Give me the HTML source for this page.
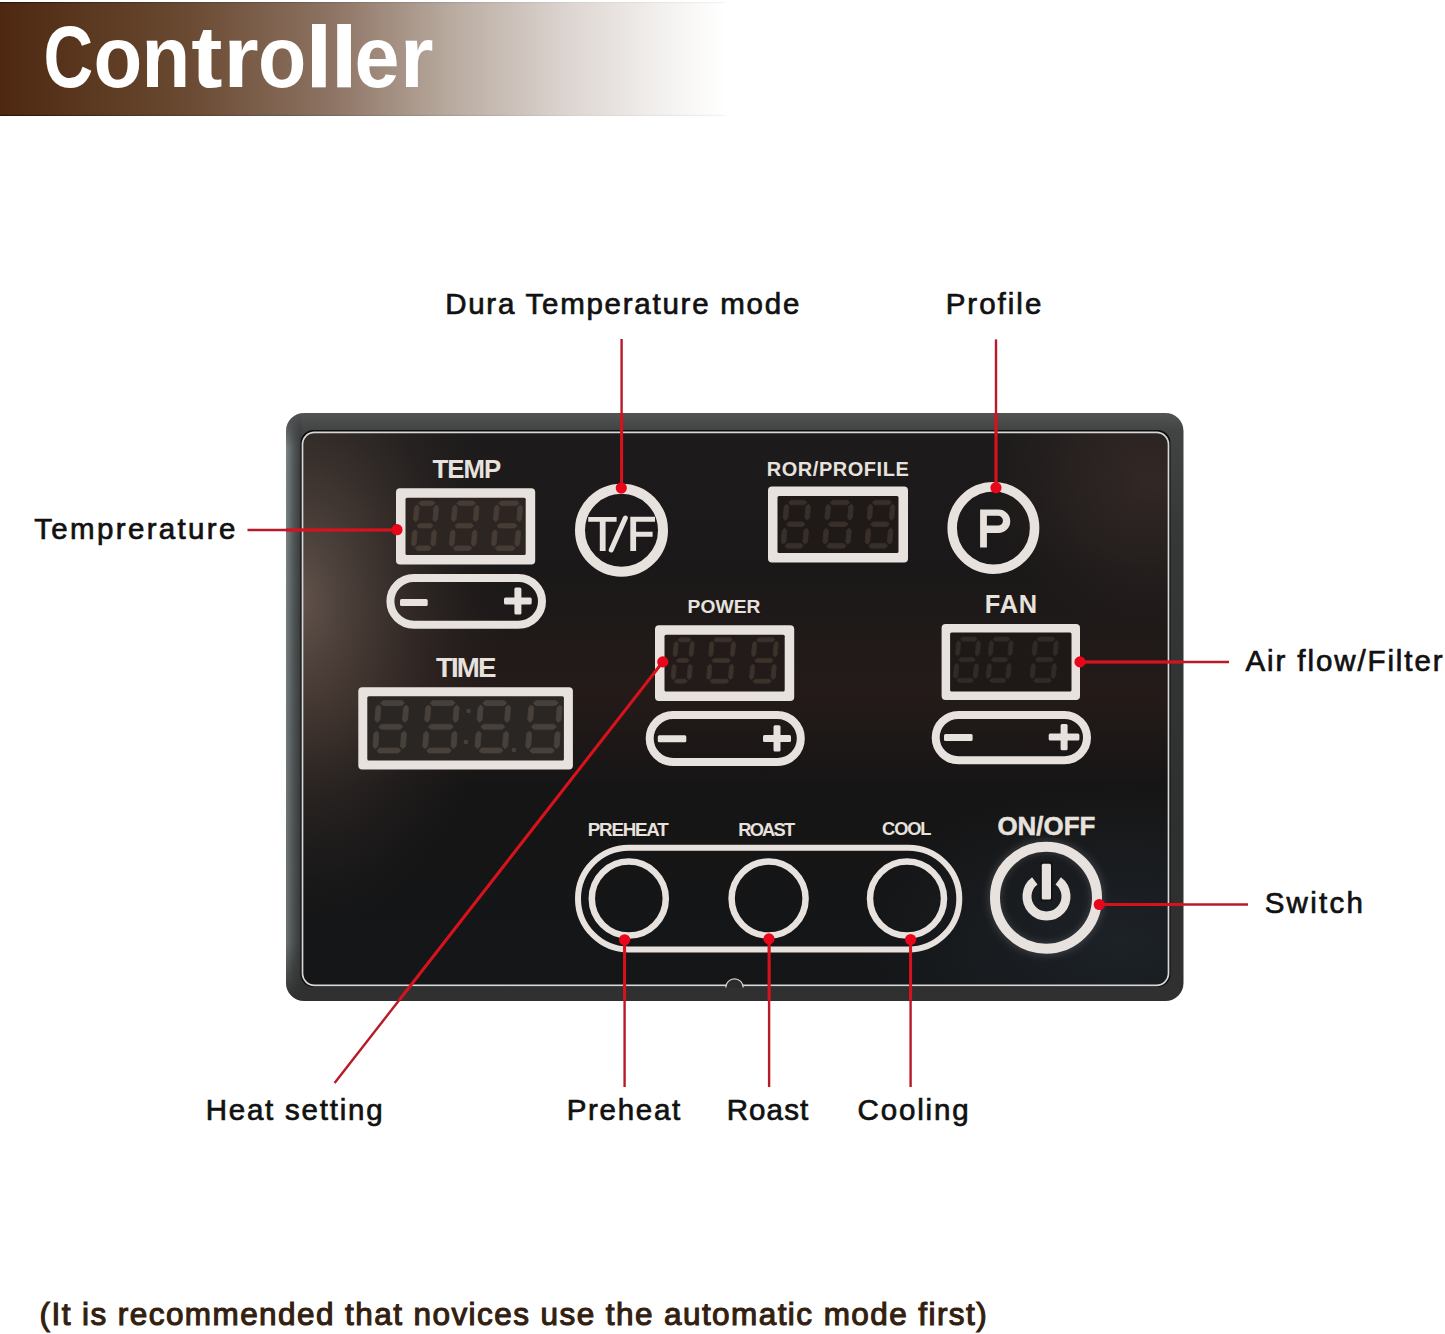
<!DOCTYPE html>
<html><head><meta charset="utf-8"><style>
html,body{margin:0;padding:0;background:#fff;width:1445px;height:1334px;overflow:hidden}
svg{display:block}
text{font-family:"Liberation Sans",sans-serif}
</style></head><body>
<svg width="1445" height="1334" viewBox="0 0 1445 1334">
<defs>
<linearGradient id="hdr" x1="0" y1="0" x2="725" y2="0" gradientUnits="userSpaceOnUse">
<stop offset="0" stop-color="#4e2810"/>
<stop offset="0.26" stop-color="#6a4a32"/>
<stop offset="0.46" stop-color="#8e7464"/>
<stop offset="0.62" stop-color="#b8aa9e"/>
<stop offset="0.78" stop-color="#dcd4d0"/>
<stop offset="0.92" stop-color="#f4f2f0"/>
<stop offset="1" stop-color="#ffffff"/>
</linearGradient>
<linearGradient id="hdrEdge" x1="0" y1="0" x2="725" y2="0" gradientUnits="userSpaceOnUse">
<stop offset="0" stop-color="#2a1606"/>
<stop offset="0.4" stop-color="#6a5a50"/>
<stop offset="0.8" stop-color="#d8d4d0"/>
<stop offset="1" stop-color="#f4f4f4"/>
</linearGradient>
<linearGradient id="bezLmaskG" x1="0" y1="413" x2="0" y2="1000" gradientUnits="userSpaceOnUse">
<stop offset="0" stop-color="#fff" stop-opacity="0"/>
<stop offset="0.06" stop-color="#fff" stop-opacity="1"/>
<stop offset="0.9" stop-color="#fff" stop-opacity="0.8"/>
<stop offset="1" stop-color="#fff" stop-opacity="0"/>
</linearGradient>
<mask id="bezLmask" maskUnits="userSpaceOnUse" x="280" y="405" width="30" height="600"><rect x="280" y="405" width="30" height="600" fill="url(#bezLmaskG)"/></mask>
<clipPath id="bezclip"><rect x="286" y="413" width="897.5" height="588" rx="18"/></clipPath>
<radialGradient id="reflL" cx="0" cy="0" r="1" gradientUnits="userSpaceOnUse" gradientTransform="translate(300 600) scale(210 330)">
<stop offset="0" stop-color="#6a5a52" stop-opacity="0.9"/>
<stop offset="0.4" stop-color="#55463e" stop-opacity="0.55"/>
<stop offset="1" stop-color="#2a2222" stop-opacity="0"/>
</radialGradient>
<linearGradient id="bezL" x1="286" y1="0" x2="301" y2="0" gradientUnits="userSpaceOnUse">
<stop offset="0" stop-color="#7c8484"/>
<stop offset="0.5" stop-color="#525858"/>
<stop offset="1" stop-color="#383a3a"/>
</linearGradient>
<radialGradient id="reflR" cx="0" cy="0" r="1" gradientUnits="userSpaceOnUse" gradientTransform="translate(1150 480) scale(160 150)">
<stop offset="0" stop-color="#3c2e2a" stop-opacity="0.7"/>
<stop offset="1" stop-color="#3c2e2a" stop-opacity="0"/>
</radialGradient>
<radialGradient id="reflB" cx="0" cy="0" r="1" gradientUnits="userSpaceOnUse" gradientTransform="translate(1120 940) scale(260 160)">
<stop offset="0" stop-color="#26303a" stop-opacity="0.45"/>
<stop offset="1" stop-color="#26303a" stop-opacity="0"/>
</radialGradient>
<linearGradient id="panelg" x1="0" y1="432" x2="0" y2="984" gradientUnits="userSpaceOnUse">
<stop offset="0" stop-color="#1d1b1b"/>
<stop offset="0.25" stop-color="#1a1818"/>
<stop offset="0.47" stop-color="#241b19"/>
<stop offset="0.64" stop-color="#161515"/>
<stop offset="1" stop-color="#141618"/>
</linearGradient>
<linearGradient id="bezg" x1="0" y1="413" x2="0" y2="1000" gradientUnits="userSpaceOnUse">
<stop offset="0" stop-color="#525454"/>
<stop offset="0.03" stop-color="#424444"/>
<stop offset="0.2" stop-color="#363838"/>
<stop offset="0.7" stop-color="#2e2f2f"/>
<stop offset="1" stop-color="#303030"/>
</linearGradient>
<filter id="blur1" x="-20%" y="-20%" width="140%" height="140%"><feGaussianBlur stdDeviation="1.2"/></filter>
<filter id="blur05" x="-20%" y="-20%" width="140%" height="140%"><feGaussianBlur stdDeviation="0.6"/></filter>
<filter id="blur2" x="-30%" y="-30%" width="160%" height="160%"><feGaussianBlur stdDeviation="3"/></filter>
</defs>
<rect width="1445" height="1334" fill="#fff"/>
<rect x="0" y="2" width="725" height="114" fill="url(#hdr)"/>
<rect x="0" y="2" width="725" height="1.2" fill="url(#hdrEdge)"/>
<rect x="0" y="114.8" width="725" height="1.2" fill="url(#hdrEdge)"/>

<text transform="translate(46.20 87) scale(0.790 1)" x="-3.48" y="0" font-size="87" font-weight="bold" fill="#ffffff">C</text>
<text transform="translate(96.70 87) scale(0.917 1)" x="-3.48" y="0" font-size="87" font-weight="bold" fill="#ffffff">o</text>
<text transform="translate(146.60 87) scale(0.917 1)" x="-5.66" y="0" font-size="87" font-weight="bold" fill="#ffffff">n</text>
<text transform="translate(192.20 87) scale(1.079 1)" x="-0.87" y="0" font-size="87" font-weight="bold" fill="#ffffff">t</text>
<text transform="translate(229.30 87) scale(1.038 1)" x="-5.66" y="0" font-size="87" font-weight="bold" fill="#ffffff">r</text>
<text transform="translate(261.10 87) scale(0.909 1)" x="-3.48" y="0" font-size="87" font-weight="bold" fill="#ffffff">o</text>
<text transform="translate(312.10 87) scale(1.150 1)" x="-6.09" y="0" font-size="87" font-weight="bold" fill="#ffffff">l</text>
<text transform="translate(337.20 87) scale(1.150 1)" x="-6.09" y="0" font-size="87" font-weight="bold" fill="#ffffff">l</text>
<text transform="translate(357.80 87) scale(0.929 1)" x="-3.48" y="0" font-size="87" font-weight="bold" fill="#ffffff">e</text>
<text transform="translate(405.70 87) scale(0.990 1)" x="-5.66" y="0" font-size="87" font-weight="bold" fill="#ffffff">r</text>
<text x="445.14" y="313.70" font-size="29.5" font-weight="normal" fill="#111" textLength="354.21" lengthAdjust="spacing" stroke="#111" stroke-width="0.7" paint-order="stroke" >Dura Temperature mode</text>
<text x="945.64" y="314.00" font-size="29.5" font-weight="normal" fill="#111" textLength="95.68" lengthAdjust="spacing" stroke="#111" stroke-width="0.7" paint-order="stroke" >Profile</text>
<text x="34.26" y="539.00" font-size="29.5" font-weight="normal" fill="#111" textLength="201.12" lengthAdjust="spacing" stroke="#111" stroke-width="0.7" paint-order="stroke" >Temprerature</text>
<text x="1245.55" y="671.00" font-size="29.5" font-weight="normal" fill="#111" textLength="196.99" lengthAdjust="spacing" stroke="#111" stroke-width="0.7" paint-order="stroke" >Air flow/Filter</text>
<text x="1264.67" y="912.50" font-size="29.5" font-weight="normal" fill="#111" textLength="98.26" lengthAdjust="spacing" stroke="#111" stroke-width="0.7" paint-order="stroke" >Switch</text>
<text x="205.64" y="1120.00" font-size="29.5" font-weight="normal" fill="#111" textLength="177.02" lengthAdjust="spacing" stroke="#111" stroke-width="0.7" paint-order="stroke" >Heat setting</text>
<text x="566.64" y="1120.00" font-size="29.5" font-weight="normal" fill="#111" textLength="113.58" lengthAdjust="spacing" stroke="#111" stroke-width="0.7" paint-order="stroke" >Preheat</text>
<text x="726.64" y="1120.00" font-size="29.5" font-weight="normal" fill="#111" textLength="81.58" lengthAdjust="spacing" stroke="#111" stroke-width="0.7" paint-order="stroke" >Roast</text>
<text x="857.52" y="1120.00" font-size="29.5" font-weight="normal" fill="#111" textLength="111.03" lengthAdjust="spacing" stroke="#111" stroke-width="0.7" paint-order="stroke" >Cooling</text>
<text x="39.61" y="1325.00" font-size="31.5" font-weight="normal" fill="#33200f" textLength="947.10" lengthAdjust="spacing" stroke="#33200f" stroke-width="1.1" paint-order="stroke" >(It is recommended that novices use the automatic mode first)</text>
<rect x="286" y="413" width="897.5" height="588" rx="18" fill="url(#bezg)"/>
<g clip-path="url(#bezclip)"><rect x="286" y="413" width="15" height="588" fill="url(#bezL)" mask="url(#bezLmask)"/></g>
<rect x="300.5" y="430" width="870" height="557" rx="13" fill="#0e0e0e"/>
<rect x="302.5" y="432.3" width="866" height="553" rx="12" fill="url(#panelg)"/>
<rect x="302.5" y="432.3" width="866" height="553" rx="12" fill="url(#reflL)"/>
<rect x="302.5" y="432.3" width="866" height="553" rx="12" fill="url(#reflR)"/>
<rect x="302.5" y="432.3" width="866" height="553" rx="12" fill="url(#reflB)"/>
<rect x="302.5" y="432.3" width="866" height="553" rx="12" fill="none" stroke="#d8d8d8" stroke-width="1.7"/>
<rect x="396" y="488.2" width="139.2" height="76.4" rx="4" fill="#e8e2de"/>
<rect x="405.5" y="497.7" width="120.2" height="57.4" rx="1.5" fill="#2c2522"/>
<path d="M418.7,503.3 L421.2,501.0 L432.8,501.0 L434.9,503.3 L432.4,505.6 L420.8,505.6ZM436.4,504.9 L438.5,507.2 L437.5,519.5 L435.0,521.8 L432.9,519.5 L433.9,507.2ZM434.4,529.7 L436.5,532.0 L435.5,544.3 L433.0,546.6 L430.9,544.3 L431.9,532.0ZM415.1,548.2 L417.6,545.9 L429.2,545.9 L431.3,548.2 L428.8,550.5 L417.2,550.5ZM415.0,529.7 L417.1,532.0 L416.1,544.3 L413.6,546.6 L411.5,544.3 L412.5,532.0ZM417.0,504.9 L419.1,507.2 L418.1,519.5 L415.6,521.8 L413.5,519.5 L414.5,507.2ZM416.9,525.8 L419.4,523.5 L431.0,523.5 L433.1,525.8 L430.6,528.0 L419.0,528.0Z" fill="#463b35" stroke="#463b35" stroke-width="0.8" stroke-linejoin="round" filter="url(#blur05)"/>
<path d="M456.7,503.3 L459.2,501.0 L473.3,501.0 L475.4,503.3 L472.9,505.6 L458.8,505.6ZM476.9,504.9 L479.0,507.2 L478.0,519.5 L475.5,521.8 L473.4,519.5 L474.4,507.2ZM474.9,529.7 L477.0,532.0 L476.0,544.3 L473.5,546.6 L471.4,544.3 L472.4,532.0ZM453.1,548.2 L455.6,545.9 L469.7,545.9 L471.8,548.2 L469.3,550.5 L455.2,550.5ZM453.0,529.7 L455.1,532.0 L454.1,544.3 L451.6,546.6 L449.5,544.3 L450.5,532.0ZM455.0,504.9 L457.1,507.2 L456.1,519.5 L453.6,521.8 L451.5,519.5 L452.5,507.2ZM454.9,525.8 L457.4,523.5 L471.5,523.5 L473.6,525.8 L471.1,528.0 L457.0,528.0Z" fill="#463b35" stroke="#463b35" stroke-width="0.8" stroke-linejoin="round" filter="url(#blur05)"/>
<path d="M498.7,503.3 L501.2,501.0 L516.8,501.0 L518.9,503.3 L516.4,505.6 L500.8,505.6ZM520.4,504.9 L522.5,507.2 L521.5,519.5 L519.0,521.8 L516.9,519.5 L517.9,507.2ZM518.4,529.7 L520.5,532.0 L519.5,544.3 L517.0,546.6 L514.9,544.3 L515.9,532.0ZM495.1,548.2 L497.6,545.9 L513.2,545.9 L515.3,548.2 L512.8,550.5 L497.2,550.5ZM495.0,529.7 L497.1,532.0 L496.1,544.3 L493.6,546.6 L491.5,544.3 L492.5,532.0ZM497.0,504.9 L499.1,507.2 L498.1,519.5 L495.6,521.8 L493.5,519.5 L494.5,507.2ZM496.9,525.8 L499.4,523.5 L515.0,523.5 L517.1,525.8 L514.6,528.0 L499.0,528.0Z" fill="#463b35" stroke="#463b35" stroke-width="0.8" stroke-linejoin="round" filter="url(#blur05)"/>
<rect x="768" y="486.5" width="140.0" height="76.0" rx="4" fill="#e8e2de"/>
<rect x="777.5" y="496.0" width="121.0" height="57.0" rx="1.5" fill="#1f1917"/>
<path d="M788.4,502.5 L790.9,500.2 L804.8,500.2 L806.9,502.5 L804.4,504.8 L790.5,504.8ZM808.4,504.1 L810.5,506.4 L809.5,518.0 L807.0,520.3 L804.9,518.0 L805.9,506.4ZM806.4,528.1 L808.5,530.4 L807.5,542.0 L805.0,544.3 L802.9,542.0 L803.9,530.4ZM784.8,545.9 L787.3,543.6 L801.2,543.6 L803.3,545.9 L800.8,548.2 L786.9,548.2ZM784.7,528.1 L786.8,530.4 L785.8,542.0 L783.3,544.3 L781.2,542.0 L782.2,530.4ZM786.7,504.1 L788.8,506.4 L787.8,518.0 L785.3,520.3 L783.2,518.0 L784.2,506.4ZM786.6,524.2 L789.1,521.9 L803.0,521.9 L805.1,524.2 L802.6,526.5 L788.7,526.5Z" fill="#372e2a" stroke="#372e2a" stroke-width="0.8" stroke-linejoin="round" filter="url(#blur05)"/>
<path d="M830.1,502.5 L832.6,500.2 L847.6,500.2 L849.7,502.5 L847.2,504.8 L832.2,504.8ZM851.2,504.1 L853.3,506.4 L852.3,518.0 L849.8,520.3 L847.7,518.0 L848.7,506.4ZM849.2,528.1 L851.3,530.4 L850.3,542.0 L847.8,544.3 L845.7,542.0 L846.7,530.4ZM826.5,545.9 L829.0,543.6 L844.0,543.6 L846.1,545.9 L843.6,548.2 L828.6,548.2ZM826.4,528.1 L828.5,530.4 L827.5,542.0 L825.0,544.3 L822.9,542.0 L823.9,530.4ZM828.4,504.1 L830.5,506.4 L829.5,518.0 L827.0,520.3 L824.9,518.0 L825.9,506.4ZM828.3,524.2 L830.8,521.9 L845.8,521.9 L847.9,524.2 L845.4,526.5 L830.4,526.5Z" fill="#372e2a" stroke="#372e2a" stroke-width="0.8" stroke-linejoin="round" filter="url(#blur05)"/>
<path d="M872.3,502.5 L874.8,500.2 L889.2,500.2 L891.3,502.5 L888.8,504.8 L874.4,504.8ZM892.8,504.1 L894.9,506.4 L893.9,518.0 L891.4,520.3 L889.3,518.0 L890.3,506.4ZM890.8,528.1 L892.9,530.4 L891.9,542.0 L889.4,544.3 L887.3,542.0 L888.3,530.4ZM868.7,545.9 L871.2,543.6 L885.6,543.6 L887.7,545.9 L885.2,548.2 L870.8,548.2ZM868.6,528.1 L870.7,530.4 L869.7,542.0 L867.2,544.3 L865.1,542.0 L866.1,530.4ZM870.6,504.1 L872.7,506.4 L871.7,518.0 L869.2,520.3 L867.1,518.0 L868.1,506.4ZM870.5,524.2 L873.0,521.9 L887.4,521.9 L889.5,524.2 L887.0,526.5 L872.6,526.5Z" fill="#372e2a" stroke="#372e2a" stroke-width="0.8" stroke-linejoin="round" filter="url(#blur05)"/>
<rect x="655" y="625.2" width="139.2" height="75.8" rx="4" fill="#e8e2de"/>
<rect x="664.5" y="634.7" width="120.2" height="56.8" rx="1.5" fill="#221b19"/>
<path d="M678.0,639.8 L680.3,637.7 L689.1,637.7 L691.0,639.8 L688.8,641.9 L679.9,641.9ZM692.4,641.3 L694.3,643.4 L693.3,654.8 L691.0,656.9 L689.1,654.8 L690.1,643.4ZM690.4,664.1 L692.3,666.2 L691.3,677.6 L689.0,679.7 L687.1,677.6 L688.1,666.2ZM674.4,681.2 L676.6,679.1 L685.5,679.1 L687.4,681.2 L685.1,683.3 L676.3,683.3ZM674.4,664.1 L676.3,666.2 L675.3,677.6 L673.0,679.7 L671.1,677.6 L672.1,666.2ZM676.4,641.3 L678.3,643.4 L677.3,654.8 L675.0,656.9 L673.1,654.8 L674.1,643.4ZM676.2,660.5 L678.5,658.4 L687.3,658.4 L689.2,660.5 L686.9,662.6 L678.1,662.6Z" fill="#3a302c" stroke="#3a302c" stroke-width="0.8" stroke-linejoin="round" filter="url(#blur05)"/>
<path d="M713.6,639.8 L715.9,637.7 L730.4,637.7 L732.3,639.8 L730.1,641.9 L715.5,641.9ZM733.7,641.3 L735.6,643.4 L734.6,654.8 L732.3,656.9 L730.4,654.8 L731.4,643.4ZM731.7,664.1 L733.6,666.2 L732.6,677.6 L730.3,679.7 L728.4,677.6 L729.4,666.2ZM710.0,681.2 L712.2,679.1 L726.8,679.1 L728.7,681.2 L726.4,683.3 L711.9,683.3ZM710.0,664.1 L711.9,666.2 L710.9,677.6 L708.6,679.7 L706.7,677.6 L707.7,666.2ZM712.0,641.3 L713.9,643.4 L712.9,654.8 L710.6,656.9 L708.7,654.8 L709.7,643.4ZM711.8,660.5 L714.1,658.4 L728.6,658.4 L730.5,660.5 L728.2,662.6 L713.7,662.6Z" fill="#3a302c" stroke="#3a302c" stroke-width="0.8" stroke-linejoin="round" filter="url(#blur05)"/>
<path d="M756.4,639.8 L758.7,637.7 L773.1,637.7 L775.0,639.8 L772.8,641.9 L758.3,641.9ZM776.4,641.3 L778.3,643.4 L777.3,654.8 L775.0,656.9 L773.1,654.8 L774.1,643.4ZM774.4,664.1 L776.3,666.2 L775.3,677.6 L773.0,679.7 L771.1,677.6 L772.1,666.2ZM752.8,681.2 L755.0,679.1 L769.5,679.1 L771.4,681.2 L769.1,683.3 L754.7,683.3ZM752.8,664.1 L754.7,666.2 L753.7,677.6 L751.4,679.7 L749.5,677.6 L750.5,666.2ZM754.8,641.3 L756.7,643.4 L755.7,654.8 L753.4,656.9 L751.5,654.8 L752.5,643.4ZM754.6,660.5 L756.9,658.4 L771.3,658.4 L773.2,660.5 L770.9,662.6 L756.5,662.6Z" fill="#3a302c" stroke="#3a302c" stroke-width="0.8" stroke-linejoin="round" filter="url(#blur05)"/>
<rect x="358.3" y="687.3" width="214.6" height="82.3" rx="4" fill="#e8e2de"/>
<rect x="367.3" y="696.3" width="196.6" height="64.3" rx="1.5" fill="#2a2624"/>
<path d="M380.5,703.1 L383.1,700.6 L402.2,700.6 L404.6,703.1 L401.9,705.6 L382.8,705.6ZM406.2,704.9 L408.5,707.4 L407.5,720.0 L404.8,722.5 L402.5,720.0 L403.5,707.4ZM404.2,731.0 L406.5,733.5 L405.5,746.2 L402.8,748.8 L400.5,746.2 L401.5,733.5ZM376.8,750.5 L379.5,748.0 L398.6,748.0 L400.9,750.5 L398.2,753.0 L379.1,753.0ZM376.6,731.0 L378.9,733.5 L377.9,746.2 L375.2,748.8 L372.9,746.2 L373.9,733.5ZM378.6,704.9 L380.9,707.4 L379.9,720.0 L377.2,722.5 L374.9,720.0 L375.9,707.4ZM378.6,726.8 L381.3,724.3 L400.4,724.3 L402.8,726.8 L400.1,729.3 L381.0,729.3Z" fill="#46403b" stroke="#46403b" stroke-width="0.8" stroke-linejoin="round" filter="url(#blur05)"/>
<path d="M430.3,703.1 L432.9,700.6 L452.9,700.6 L455.2,703.1 L452.5,705.6 L432.6,705.6ZM456.8,704.9 L459.1,707.4 L458.1,720.0 L455.4,722.5 L453.1,720.0 L454.1,707.4ZM454.8,731.0 L457.1,733.5 L456.1,746.2 L453.4,748.8 L451.1,746.2 L452.1,733.5ZM426.6,750.5 L429.3,748.0 L449.2,748.0 L451.5,750.5 L448.9,753.0 L428.9,753.0ZM426.4,731.0 L428.7,733.5 L427.7,746.2 L425.0,748.8 L422.7,746.2 L423.7,733.5ZM428.4,704.9 L430.7,707.4 L429.7,720.0 L427.0,722.5 L424.7,720.0 L425.7,707.4ZM428.4,726.8 L431.1,724.3 L451.0,724.3 L453.4,726.8 L450.7,729.3 L430.8,729.3Z" fill="#46403b" stroke="#46403b" stroke-width="0.8" stroke-linejoin="round" filter="url(#blur05)"/>
<path d="M482.7,703.1 L485.4,700.6 L504.4,700.6 L506.7,703.1 L504.0,705.6 L485.0,705.6ZM508.3,704.9 L510.6,707.4 L509.6,720.0 L506.9,722.5 L504.6,720.0 L505.6,707.4ZM506.3,731.0 L508.6,733.5 L507.6,746.2 L504.9,748.8 L502.6,746.2 L503.6,733.5ZM479.0,750.5 L481.7,748.0 L500.7,748.0 L503.0,750.5 L500.4,753.0 L481.4,753.0ZM478.8,731.0 L481.1,733.5 L480.1,746.2 L477.4,748.8 L475.1,746.2 L476.1,733.5ZM480.8,704.9 L483.1,707.4 L482.1,720.0 L479.4,722.5 L477.1,720.0 L478.1,707.4ZM480.9,726.8 L483.5,724.3 L502.5,724.3 L504.9,726.8 L502.2,729.3 L483.2,729.3Z" fill="#46403b" stroke="#46403b" stroke-width="0.8" stroke-linejoin="round" filter="url(#blur05)"/>
<path d="M533.3,703.1 L536.0,700.6 L555.9,700.6 L558.2,703.1 L555.5,705.6 L535.6,705.6ZM559.8,704.9 L562.1,707.4 L561.1,720.0 L558.4,722.5 L556.1,720.0 L557.1,707.4ZM557.8,731.0 L560.1,733.5 L559.1,746.2 L556.4,748.8 L554.1,746.2 L555.1,733.5ZM529.6,750.5 L532.3,748.0 L552.2,748.0 L554.5,750.5 L551.9,753.0 L532.0,753.0ZM529.4,731.0 L531.7,733.5 L530.7,746.2 L528.0,748.8 L525.7,746.2 L526.7,733.5ZM531.4,704.9 L533.7,707.4 L532.7,720.0 L530.0,722.5 L527.7,720.0 L528.7,707.4ZM531.5,726.8 L534.1,724.3 L554.0,724.3 L556.4,726.8 L553.7,729.3 L533.8,729.3Z" fill="#46403b" stroke="#46403b" stroke-width="0.8" stroke-linejoin="round" filter="url(#blur05)"/>
<circle cx="468.5" cy="711" r="2.3" fill="#46403b"/>
<circle cx="466" cy="742" r="2.3" fill="#46403b"/>
<circle cx="514" cy="750" r="2.3" fill="#46403b"/>
<rect x="941.6" y="623.9" width="138.4" height="76.0" rx="4" fill="#e8e2de"/>
<rect x="950.1" y="632.4" width="121.4" height="59.0" rx="1.5" fill="#1e1917"/>
<path d="M960.4,639.1 L962.7,637.0 L975.3,637.0 L977.2,639.1 L975.0,641.2 L962.3,641.2ZM978.6,640.6 L980.5,642.7 L979.5,654.0 L977.2,656.1 L975.3,654.0 L976.3,642.7ZM976.6,663.3 L978.5,665.4 L977.5,676.7 L975.2,678.8 L973.3,676.7 L974.3,665.4ZM956.8,680.3 L959.0,678.2 L971.7,678.2 L973.6,680.3 L971.3,682.4 L958.7,682.4ZM956.8,663.3 L958.7,665.4 L957.7,676.7 L955.4,678.8 L953.5,676.7 L954.5,665.4ZM958.8,640.6 L960.7,642.7 L959.7,654.0 L957.4,656.1 L955.5,654.0 L956.5,642.7ZM958.6,659.7 L960.9,657.6 L973.5,657.6 L975.4,659.7 L973.1,661.8 L960.5,661.8Z" fill="#302a27" stroke="#302a27" stroke-width="0.8" stroke-linejoin="round" filter="url(#blur05)"/>
<path d="M993.2,639.1 L995.5,637.0 L1007.9,637.0 L1009.8,639.1 L1007.6,641.2 L995.1,641.2ZM1011.2,640.6 L1013.1,642.7 L1012.1,654.0 L1009.8,656.1 L1007.9,654.0 L1008.9,642.7ZM1009.2,663.3 L1011.1,665.4 L1010.1,676.7 L1007.8,678.8 L1005.9,676.7 L1006.9,665.4ZM989.6,680.3 L991.8,678.2 L1004.3,678.2 L1006.2,680.3 L1003.9,682.4 L991.5,682.4ZM989.6,663.3 L991.5,665.4 L990.5,676.7 L988.2,678.8 L986.3,676.7 L987.3,665.4ZM991.6,640.6 L993.5,642.7 L992.5,654.0 L990.2,656.1 L988.3,654.0 L989.3,642.7ZM991.4,659.7 L993.7,657.6 L1006.1,657.6 L1008.0,659.7 L1005.7,661.8 L993.3,661.8Z" fill="#302a27" stroke="#302a27" stroke-width="0.8" stroke-linejoin="round" filter="url(#blur05)"/>
<path d="M1037.1,639.1 L1039.4,637.0 L1053.2,637.0 L1055.1,639.1 L1052.9,641.2 L1039.0,641.2ZM1056.5,640.6 L1058.4,642.7 L1057.4,654.0 L1055.1,656.1 L1053.2,654.0 L1054.2,642.7ZM1054.5,663.3 L1056.4,665.4 L1055.4,676.7 L1053.1,678.8 L1051.2,676.7 L1052.2,665.4ZM1033.5,680.3 L1035.7,678.2 L1049.6,678.2 L1051.5,680.3 L1049.2,682.4 L1035.4,682.4ZM1033.5,663.3 L1035.4,665.4 L1034.4,676.7 L1032.1,678.8 L1030.2,676.7 L1031.2,665.4ZM1035.5,640.6 L1037.4,642.7 L1036.4,654.0 L1034.1,656.1 L1032.2,654.0 L1033.2,642.7ZM1035.3,659.7 L1037.6,657.6 L1051.4,657.6 L1053.3,659.7 L1051.0,661.8 L1037.2,661.8Z" fill="#302a27" stroke="#302a27" stroke-width="0.8" stroke-linejoin="round" filter="url(#blur05)"/>
<rect x="390.4" y="578.0" width="151.6" height="46.7" rx="23.4" fill="none" stroke="#e8e2de" stroke-width="8"/>
<rect x="400" y="598.9" width="27.7" height="7" rx="1.5" fill="#e8e2de"/>
<rect x="504" y="597.5" width="27.7" height="7" rx="1.5" fill="#e8e2de"/>
<rect x="514.4" y="587.4" width="7" height="27.1" rx="1.5" fill="#e8e2de"/>
<rect x="649.7" y="715.0" width="151.1" height="47.0" rx="23.5" fill="none" stroke="#e8e2de" stroke-width="8"/>
<rect x="657.8" y="735.3" width="28.5" height="7" rx="1.5" fill="#e8e2de"/>
<rect x="763" y="735.0" width="28.0" height="7" rx="1.5" fill="#e8e2de"/>
<rect x="773.5" y="725.3" width="7" height="26.3" rx="1.5" fill="#e8e2de"/>
<rect x="935.7" y="714.9" width="151.3" height="45.3" rx="22.7" fill="none" stroke="#e8e2de" stroke-width="8"/>
<rect x="944" y="734.0" width="28.6" height="7" rx="1.5" fill="#e8e2de"/>
<rect x="1048.7" y="733.6" width="30.7" height="7" rx="1.5" fill="#e8e2de"/>
<rect x="1060.6" y="724" width="7" height="26.3" rx="1.5" fill="#e8e2de"/>
<text x="432.44" y="477.80" font-size="25.8" font-weight="bold" fill="#e8e2de" textLength="68.71" lengthAdjust="spacing" >TEMP</text>
<text x="766.80" y="475.70" font-size="20.0" font-weight="bold" fill="#e8e2de" textLength="141.97" lengthAdjust="spacing" >ROR/PROFILE</text>
<text x="687.55" y="612.80" font-size="19.2" font-weight="bold" fill="#e8e2de" textLength="72.89" lengthAdjust="spacing" >POWER</text>
<text x="436.02" y="676.50" font-size="27.7" font-weight="bold" fill="#e8e2de" textLength="60.35" lengthAdjust="spacing" >TIME</text>
<text x="984.85" y="612.90" font-size="25.4" font-weight="bold" fill="#e8e2de" textLength="52.30" lengthAdjust="spacing" >FAN</text>
<text x="587.78" y="835.60" font-size="18.8" font-weight="bold" fill="#e8e2de" textLength="81.00" lengthAdjust="spacing" >PREHEAT</text>
<text x="738.31" y="835.60" font-size="18.3" font-weight="bold" fill="#e8e2de" textLength="56.77" lengthAdjust="spacing" >ROAST</text>
<text x="882.07" y="835.20" font-size="18.3" font-weight="bold" fill="#e8e2de" textLength="49.46" lengthAdjust="spacing" >COOL</text>
<text x="997.46" y="835.30" font-size="25.9" font-weight="bold" fill="#e8e2de" textLength="97.90" lengthAdjust="spacing" stroke="#e8e2de" stroke-width="0.5" paint-order="stroke" >ON/OFF</text>
<circle cx="621.5" cy="530.2" r="41.5" fill="none" stroke="#e8e2de" stroke-width="10"/>
<path d="M588.2,517.1H616.6V521.8H605.6V551H599.8V521.8H588.2Z M630.3,516.8H655V521.8H636.1V531.8H652.6V536.8H636.1V551H630.3Z" fill="#e8e2de"/>
<line x1="625.3" y1="518" x2="611.2" y2="550" stroke="#e8e2de" stroke-width="5" stroke-linecap="round"/>
<circle cx="993.4" cy="528" r="41.2" fill="none" stroke="#e8e2de" stroke-width="9.5"/>
<path fill-rule="evenodd" d="M980.1,509.5H998.5A11.75,11.75 0 0 1 998.5,533H986.9V547.4H980.1Z M986.9,515.7V525.6H998A4.95,4.95 0 0 0 998,515.7Z" fill="#e8e2de"/>
<rect x="578" y="847.7" width="381.3" height="101.9" rx="50.95" fill="none" stroke="#e8e2de" stroke-width="6"/>
<circle cx="628.8" cy="898.6" r="37" fill="none" stroke="#e8e2de" stroke-width="6.5"/>
<circle cx="768.6" cy="898.6" r="37" fill="none" stroke="#e8e2de" stroke-width="6.5"/>
<circle cx="907" cy="898.6" r="37" fill="none" stroke="#e8e2de" stroke-width="6.5"/>
<circle cx="1046" cy="897.7" r="51.5" fill="none" stroke="#ffffff" stroke-opacity="0.12" stroke-width="14" filter="url(#blur2)"/>
<circle cx="1046" cy="897.7" r="51" fill="none" stroke="#e8e2de" stroke-width="10" filter="url(#blur05)"/>
<path d="M1034.76,880.93 A19.5,19.5 0 1 0 1058.24,880.93" fill="none" stroke="#e8e2de" stroke-width="9" filter="url(#blur05)"/>
<rect x="1039.8" y="861.7" width="13.2" height="39.7" rx="3" fill="#141414"/>
<rect x="1041.8" y="863.7" width="9.2" height="35.7" rx="1.5" fill="#e8e2de" filter="url(#blur05)"/>
<path d="M725.8,987.5 A8.7,8.7 0 0 1 743.2,987.5 Z" fill="#2c2c2c"/>
<path d="M725.8,987.5 A8.7,8.7 0 0 1 743.2,987.5" fill="none" stroke="#d0d0d0" stroke-width="1.3"/>
<clipPath id="devclip"><rect x="286" y="413" width="897" height="587" rx="17"/></clipPath>
<line x1="621.6" y1="339" x2="621.6" y2="488" stroke="#b81a28" stroke-width="2.4"/>
<line x1="996" y1="339.4" x2="996" y2="487.7" stroke="#b81a28" stroke-width="2.4"/>
<line x1="247.5" y1="530" x2="397" y2="530" stroke="#b81a28" stroke-width="2.4"/>
<line x1="1080" y1="662" x2="1229" y2="662" stroke="#b81a28" stroke-width="2.4"/>
<line x1="1099" y1="904.5" x2="1248" y2="904.5" stroke="#b81a28" stroke-width="2.4"/>
<line x1="334.6" y1="1083" x2="662.8" y2="661.9" stroke="#b81a28" stroke-width="2.4"/>
<line x1="624.6" y1="939.8" x2="624.6" y2="1087" stroke="#b81a28" stroke-width="2.4"/>
<line x1="769.1" y1="939" x2="769.1" y2="1087" stroke="#b81a28" stroke-width="2.4"/>
<line x1="910.6" y1="939" x2="910.6" y2="1087" stroke="#b81a28" stroke-width="2.4"/>
<line x1="621.6" y1="339" x2="621.6" y2="488" stroke="#d8121c" stroke-width="3" clip-path="url(#devclip)"/>
<line x1="996" y1="339.4" x2="996" y2="487.7" stroke="#d8121c" stroke-width="3" clip-path="url(#devclip)"/>
<line x1="247.5" y1="530" x2="397" y2="530" stroke="#d8121c" stroke-width="3" clip-path="url(#devclip)"/>
<line x1="1080" y1="662" x2="1229" y2="662" stroke="#d8121c" stroke-width="3" clip-path="url(#devclip)"/>
<line x1="1099" y1="904.5" x2="1248" y2="904.5" stroke="#d8121c" stroke-width="3" clip-path="url(#devclip)"/>
<line x1="334.6" y1="1083" x2="662.8" y2="661.9" stroke="#d8121c" stroke-width="3" clip-path="url(#devclip)"/>
<line x1="624.6" y1="939.8" x2="624.6" y2="1087" stroke="#d8121c" stroke-width="3" clip-path="url(#devclip)"/>
<line x1="769.1" y1="939" x2="769.1" y2="1087" stroke="#d8121c" stroke-width="3" clip-path="url(#devclip)"/>
<line x1="910.6" y1="939" x2="910.6" y2="1087" stroke="#d8121c" stroke-width="3" clip-path="url(#devclip)"/>
<circle cx="621.3" cy="488" r="5.6" fill="#e8061a"/>
<circle cx="996" cy="487.7" r="5.6" fill="#e8061a"/>
<circle cx="397" cy="529.7" r="5.6" fill="#e8061a"/>
<circle cx="1080" cy="661.9" r="5.6" fill="#e8061a"/>
<circle cx="1099.3" cy="904.5" r="5.6" fill="#e8061a"/>
<circle cx="662.8" cy="661.9" r="5.6" fill="#e8061a"/>
<circle cx="624.6" cy="939.8" r="5.6" fill="#e8061a"/>
<circle cx="769" cy="938.9" r="5.6" fill="#e8061a"/>
<circle cx="910.6" cy="939.5" r="5.6" fill="#e8061a"/>
</svg></body></html>
